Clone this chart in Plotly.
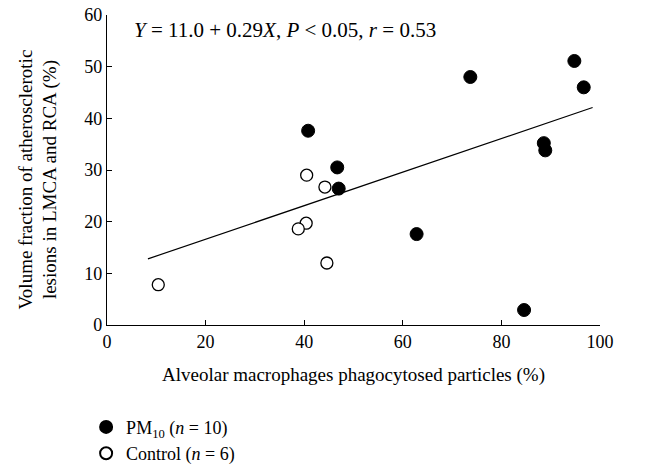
import plotly.graph_objects as go

# PM10 group (filled circles)
pm_x = [73.7, 94.8, 96.7, 40.8, 88.6, 88.9, 46.7, 47.0, 62.8, 84.6]
pm_y = [48.0, 51.1, 46.0, 37.6, 35.2, 33.8, 30.5, 26.4, 17.6, 2.9]

# Control group (open circles)
ctrl_x = [40.5, 44.2, 40.4, 38.8, 44.6, 10.4]
ctrl_y = [29.0, 26.7, 19.7, 18.6, 12.0, 7.8]

# Regression line as drawn
fit_x = [8.3, 98.5]
fit_y = [12.8, 42.1]

x_ticks = [0, 20, 40, 60, 80, 100]
y_ticks = [0, 10, 20, 30, 40, 50, 60]

FONT = "Liberation Serif, Times New Roman, serif"
FS = 18

fig = go.Figure()
fig.add_trace(go.Scatter(x=fit_x, y=fit_y, mode="lines",
                         line=dict(color="black", width=1.2),
                         showlegend=False, hoverinfo="skip"))
fig.add_trace(go.Scatter(x=pm_x, y=pm_y, mode="markers",
                         name="PM<sub>10</sub> (<i>n</i> = 10)",
                         marker=dict(symbol="circle", size=13, color="black",
                                     line=dict(color="black", width=1))))
fig.add_trace(go.Scatter(x=ctrl_x, y=ctrl_y, mode="markers",
                         name="Control (<i>n</i> = 6)",
                         marker=dict(symbol="circle", size=12, color="white",
                                     line=dict(color="black", width=1.3))))

fig.add_annotation(x=5, y=57.1, xref="x", yref="y", xanchor="left", yanchor="middle",
                   text="<i>Y</i> = 11.0 + 0.29<i>X</i>, <i>P</i> &lt; 0.05, <i>r</i> = 0.53",
                   showarrow=False, font=dict(family=FONT, size=21, color="black"))

# y-axis title (two lines, rotated)
fig.add_annotation(x=0, y=0.468, xref="paper", yref="paper", xanchor="center",
                   yanchor="middle", xshift=-68.5, textangle=-90,
                   text="Volume fraction of atherosclerotic<br>lesions in LMCA and RCA (%)",
                   showarrow=False, font=dict(family=FONT, size=19, color="black"))

fig.update_layout(
    width=662, height=467,
    margin=dict(l=99, r=70, t=7, b=150, autoexpand=False),
    paper_bgcolor="white", plot_bgcolor="white",
    font=dict(family=FONT, size=FS, color="black"),
    legend=dict(xref="container", yref="container", x=0.118, y=0.142,
                xanchor="left", yanchor="top",
                bgcolor="rgba(0,0,0,0)", font=dict(family=FONT, size=FS),
                itemwidth=30, itemsizing="constant", tracegroupgap=0),
    xaxis=dict(range=[0, 100], tickvals=x_ticks, showline=True, linecolor="black",
               linewidth=1.2, ticks="inside", ticklen=5, tickcolor="black",
               showgrid=False, zeroline=False, mirror=False, automargin=True,
               ticklabeloverflow="allow",
               title=dict(text="Alveolar macrophages phagocytosed particles (%)",
                          font=dict(family=FONT, size=19), standoff=16)),
    yaxis=dict(range=[0, 60], tickvals=y_ticks, showline=True, linecolor="black",
               linewidth=1.2, ticks="inside", ticklen=5, tickcolor="black",
               showgrid=False, zeroline=False, automargin=True,
               ticklabeloverflow="allow"),
)

fig.write_html("out.html")
